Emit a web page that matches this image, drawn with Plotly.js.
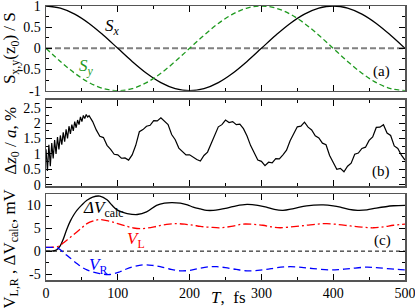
<!DOCTYPE html>
<html><head><meta charset="utf-8">
<script src="https://cdn.plot.ly/plotly-3.0.1.min.js"></script>
<style>html,body{margin:0;padding:0;background:#fff}#chart{width:415px;height:308px}</style>
</head><body><div id="chart"></div>
<script>
// ---- data ----
var xRange = [0, 500];
var zeroY = [0, 0];

// panel (a)
var tA = [0,20,40,60,80,100,120,140,160,180,200,220,240,260,280,300,320,340,360,380,400,420,440,460,480,500];
var sx = [1,0.951,0.809,0.588,0.309,0,-0.309,-0.588,-0.809,-0.951,-1,-0.951,-0.809,-0.588,-0.309,0,0.309,0.588,0.809,0.951,1,0.951,0.809,0.588,0.309,0];
var sy = [0,-0.309,-0.588,-0.809,-0.951,-1,-0.951,-0.809,-0.588,-0.309,0,0.309,0.588,0.809,0.951,1,0.951,0.809,0.588,0.309,0,-0.309,-0.588,-0.809,-0.951,-1];

// panel (b)
var tB = [0,2,4,6,8,10,12,14,16,18,20,22,24,26,28,30,32,34,36,38,40,42,44,46,48,50,52,54,56,58,60,
  65,70,75,80,85,90,95,100,105,110,115,120,125,130,135,140,145,150,155,160,165,170,175,180,185,190,195,200,
  205,210,215,220,225,230,235,240,245,250,255,260,265,270,275,280,285,290,295,300,305,310,315,320,325,330,
  335,340,345,350,355,360,365,370,375,380,385,390,395,400,405,410,415,420,425,430,435,440,445,450,455,460,
  465,470,475,480,485,490,495,500];
var dz = [1.15,0.45,1.3,0.6,1.35,0.85,1.45,1.0,1.55,1.15,1.6,1.3,1.7,1.4,1.8,1.5,1.9,1.65,1.95,1.75,2.05,1.85,2.1,1.95,2.2,2.05,2.25,2.15,2.28,2.2,2.24,
  2.05,1.78,1.57,1.53,1.28,1.15,0.99,0.97,0.86,0.87,0.80,0.97,1.28,1.72,1.79,1.9,1.93,2.08,2.07,2.17,2.05,1.95,1.63,1.46,1.19,1.08,0.97,0.97,
  0.89,0.82,0.77,0.95,1.06,1.33,1.58,1.88,1.95,2.1,2.02,2.05,1.95,1.97,1.82,1.58,1.27,1.03,0.8,0.76,0.62,0.73,0.71,0.85,0.84,0.97,
  1.12,1.43,1.65,1.88,1.9,2.03,1.87,1.78,1.59,1.52,1.35,1.3,0.95,0.73,0.5,0.53,0.42,0.6,0.7,0.99,1.03,1.18,1.22,1.44,1.55,1.86,
  1.87,1.95,1.68,1.6,1.26,1.18,0.96,0.8];

// panel (c)
var tDV = [0,10,15,20,24,29,34,39,43,50,57,65,75,85,92,99,106,113,127,140,154,165,175,187,197,205,215,224,233,252,265,280,295,307,318,330,345,363,386,400,410,422,434,447,460,484,500];
var dV  = [0,0.05,0.3,1.2,2.6,4.8,6.6,8.0,8.9,10.1,11.1,11.8,12.0,11.2,10.0,9.0,8.5,8.2,8.0,8.55,10.0,10.5,10.6,10.5,10.1,9.6,9.2,8.9,8.9,9.4,9.9,10.2,10.0,9.6,9.1,8.9,9.3,9.9,10.1,9.9,9.6,9.1,8.9,9.0,9.4,9.9,10.0];
var tVL = [0,10,15,20,25,29,36,43,50,57,66,75,89,100,113,122,131,142,154,168,182,195,205,215,229,243,258,274,288,302,314,326,345,363,378,391,408,424,440,456,470,484,500];
var vL  = [0.8,0.85,0.95,1.3,1.9,2.4,3.3,4.2,5.1,6.0,6.6,6.9,6.5,6.0,5.4,5.05,4.9,5.05,5.4,5.85,6.0,5.85,5.65,5.4,5.2,5.1,5.4,5.9,5.85,5.65,5.3,5.1,5.35,5.65,5.9,6.0,5.8,5.5,5.25,5.1,5.3,5.65,5.9];
var tVR = [0,10,15,20,25,29,36,43,50,57,66,75,89,103,112,122,136,148,159,172,187,200,215,229,238,250,265,280,295,307,322,340,356,372,395,410,424,446,460,475,490,500];
var vR  = [0.8,0.8,0.7,0.3,-0.4,-0.9,-1.8,-2.7,-3.5,-4.1,-4.6,-4.9,-5.1,-4.5,-3.9,-3.4,-3.0,-3.1,-3.4,-3.9,-4.3,-4.2,-3.7,-3.4,-3.4,-3.6,-4.0,-4.3,-4.2,-4.0,-3.6,-3.4,-3.55,-3.8,-4.1,-4.0,-3.8,-3.5,-3.6,-3.8,-4.0,-4.1];

// ticks
var xTicks = [0,100,200,300,400,500];
var xTickText = ['0','100','200','300','400','500'];
var aTicks = [-1,-0.5,0,0.5,1];
var aTickText = ['-1','-0.5','0','0.5','1'];
var bTicks = [0,0.5,1,1.5,2,2.5];
var bTickText = ['0','0.5','1','1.5','2','2.5'];
var cTicks = [-5,0,5,10];
var cTickText = ['-5','0','5','10'];

// ---- chart ----
var FONT = 'Liberation Serif, Times New Roman, serif';
var frame = '#555';

var traces = [
  {x: xRange, y: zeroY, xaxis:'x3', yaxis:'y3', mode:'lines', line:{color:'#808080', width:2, dash:'6px,3px'}},
  {x: tA, y: sx, xaxis:'x3', yaxis:'y3', mode:'lines', line:{color:'#000', width:1.3, shape:'spline'}},
  {x: tA, y: sy, xaxis:'x3', yaxis:'y3', mode:'lines', line:{color:'#1f9a1f', width:1.3, shape:'spline', dash:'5px,3px'}},
  {x: tB, y: dz, xaxis:'x2', yaxis:'y2', mode:'lines', line:{color:'#000', width:1.2}},
  {x: xRange, y: zeroY, xaxis:'x', yaxis:'y', mode:'lines', line:{color:'#000', width:1, dash:'4px,3px'}},
  {x: tDV, y: dV, xaxis:'x', yaxis:'y', mode:'lines', line:{color:'#000', width:1.3, shape:'spline'}},
  {x: tVL, y: vL, xaxis:'x', yaxis:'y', mode:'lines', line:{color:'#ff0000', width:1.3, shape:'spline', dash:'8px,3px,2px,3px'}},
  {x: tVR, y: vR, xaxis:'x', yaxis:'y', mode:'lines', line:{color:'#0000ff', width:1.3, shape:'spline', dash:'7px,4px'}}
];

function xax(anchor, labels) {
  return {
    anchor: anchor, domain:[0,1], range: xRange, showgrid:false, zeroline:false,
    showline:true, linecolor:frame, linewidth:1.5, mirror:'allticks',
    ticks:'inside', ticklen:6, tickwidth:1, tickcolor:'#000',
    tickvals: xTicks, ticktext: xTickText, showticklabels: labels,
    ticklabeloverflow:'allow',
    tickfont:{family:FONT, size:14, color:'#000'},
    minor:{dtick:50, tick0:0, ticks:'inside', ticklen:3, tickcolor:'#000'}
  };
}
function yax(anchor, dom, rng, tv, tt, mdt) {
  return {
    anchor: anchor, domain: dom, range: rng, showgrid:false, zeroline:false,
    showline:true, linecolor:frame, linewidth:1.5, mirror:'allticks',
    ticks:'inside', ticklen:6, tickwidth:1, tickcolor:'#000',
    tickvals: tv, ticktext: tt, ticklabelstandoff: 1,
    ticklabeloverflow:'allow',
    tickfont:{family:FONT, size:14, color:'#000'},
    minor:{dtick:mdt, tick0:0, ticks:'inside', ticklen:3, tickcolor:'#000'}
  };
}

var layout = {
  width:415, height:308, showlegend:false,
  margin:{l:46, r:10, t:6, b:28},
  paper_bgcolor:'#fff', plot_bgcolor:'#fff',
  font:{family:FONT, color:'#000'},
  xaxis: xax('y', true),
  xaxis2: xax('y2', false),
  xaxis3: xax('y3', false),
  yaxis: yax('x', [0,0.3127], [-6.3,12.4], cTicks, cTickText, 2.5),
  yaxis2: yax('x2', [0.342,0.658], [-0.05,2.76], bTicks, bTickText, 0.25),
  yaxis3: yax('x3', [0.691,1], [-1,1], aTicks, aTickText, 0.25),
  annotations: [
    {xref:'x3', yref:'y3', x:92, y:0.5, text:'<i>S<sub>x</sub></i>', showarrow:false, font:{family:FONT, size:17, color:'#000'}},
    {xref:'x3', yref:'y3', x:56, y:-0.43, text:'<i>S<sub>y</sub></i>', showarrow:false, font:{family:FONT, size:17, color:'#1f9a1f'}},
    {xref:'x3', yref:'y3', x:467, y:-0.55, text:'(a)', showarrow:false, font:{family:FONT, size:15, color:'#000'}},
    {xref:'x2', yref:'y2', x:467, y:0.44, text:'(b)', showarrow:false, font:{family:FONT, size:15, color:'#000'}},
    {xref:'x', yref:'y', x:468, y:2.4, text:'(c)', showarrow:false, font:{family:FONT, size:15, color:'#000'}},
    {xref:'x', yref:'y', x:80, y:9.1, text:'<i>ΔV</i><sub>calc</sub>', showarrow:false, font:{family:FONT, size:17, color:'#000'}},
    {xref:'x', yref:'y', x:126, y:2.4, text:'<i>V</i><sub>L</sub>', showarrow:false, font:{family:FONT, size:17, color:'#ff0000'}},
    {xref:'x', yref:'y', x:73, y:-3.3, text:'<i>V</i><sub>R</sub>', showarrow:false, font:{family:FONT, size:17, color:'#0000ff'}},
    {xref:'paper', yref:'paper', x:-0.097, y:0.847, xanchor:'center', yanchor:'middle', text:'S<sub>x,y</sub>(z<sub>0</sub>) / S', textangle:-90, showarrow:false, font:{family:FONT, size:17, color:'#000'}},
    {xref:'paper', yref:'paper', x:-0.097, y:0.509, xanchor:'center', yanchor:'middle', text:'Δ<i>z</i><sub>0</sub> / <i>a</i>, %', textangle:-90, showarrow:false, font:{family:FONT, size:17, color:'#000'}},
    {xref:'paper', yref:'paper', x:-0.097, y:0.115, xanchor:'center', yanchor:'middle', text:'V<sub>L,R</sub> , ΔV<sub>calc</sub>, mV', textangle:-90, showarrow:false, font:{family:FONT, size:17, color:'#000'}},
    {xref:'paper', yref:'paper', x:0.507, y:-0.065, xanchor:'center', yanchor:'middle', text:'<i>T</i>,  fs', showarrow:false, font:{family:FONT, size:17, color:'#000'}}
  ]
};

Plotly.newPlot('chart', traces, layout, {displayModeBar:false, staticPlot:true});
</script></body></html>
